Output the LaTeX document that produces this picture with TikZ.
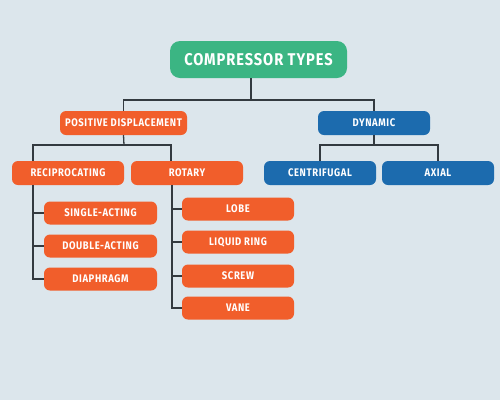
\documentclass[tikz,border=0pt]{standalone}
\usepackage{fontspec}
\setmainfont{Fira Sans}[LetterSpace=5.5, FakeStretch=0.86]
\usetikzlibrary{positioning}
\definecolor{bgblue}{HTML}{DCE6EC}
\definecolor{rootgreen}{HTML}{3BB583}
\definecolor{pdorange}{HTML}{F15E2B}
\definecolor{dynblue}{HTML}{1C6BAE}
\definecolor{linkgray}{HTML}{333A40}
\tikzset{
    box/.style={rectangle, rounded corners=6pt, text=white, font=\bfseries\fontsize{11}{12}\selectfont,
        minimum height=24pt, inner sep=0pt},
    rootbox/.style={box, fill=rootgreen, rounded corners=10pt, minimum width=177pt, minimum height=37pt,
        font=\bfseries\fontsize{17}{18}\selectfont},
    posbox/.style={box, fill=pdorange},
    dynbox/.style={box, fill=dynblue},
    link/.style={draw=linkgray, line width=1.3pt}
}

\begin{document}
\begin{tikzpicture}[x=1pt, y=-1pt]
    \fill[bgblue] (0,0) rectangle (500,400);
    \useasboundingbox (0,0) rectangle (500,400);
    % top level
    \node[rootbox] (root) at (258.5,59.5) {COMPRESSOR TYPES};
    \node[posbox, minimum width=127pt] (pd) at (123.5,123) {POSITIVE DISPLACEMENT};
    \node[dynbox, minimum width=112pt] (dyn) at (374,123) {DYNAMIC};
    % second level
    \node[posbox, minimum width=112pt] (recip) at (68,173) {RECIPROCATING};
    \node[posbox, minimum width=112pt] (rotary) at (187,173) {ROTARY};
    \node[dynbox, minimum width=112pt] (centri) at (320,173) {CENTRIFUGAL};
    \node[dynbox, minimum width=112pt] (axial) at (438,173) {AXIAL};
    % reciprocating kinds
    \node[posbox, minimum width=113pt, minimum height=23pt] (single) at (100.5,213) {SINGLE-ACTING};
    \node[posbox, minimum width=113pt, minimum height=23pt] (double) at (100.5,246) {DOUBLE-ACTING};
    \node[posbox, minimum width=113pt, minimum height=23pt] (diaph) at (100.5,279) {DIAPHRAGM};
    % rotary kinds
    \node[posbox, minimum width=112pt, minimum height=23pt] (lobe) at (238,209) {LOBE};
    \node[posbox, minimum width=112pt, minimum height=23pt] (liquid) at (238,242) {LIQUID RING};
    \node[posbox, minimum width=112pt, minimum height=23pt] (screw) at (238,276) {SCREW};
    \node[posbox, minimum width=112pt, minimum height=23pt] (vane) at (238,308) {VANE};
    % joints
    \coordinate (rj) at (251,100);
    \coordinate (pj) at (124,145);
    \coordinate (dj) at (374,145);
    \coordinate (rcj) at (33,185);
    \coordinate (rtj) at (172,185);
    % connectors
    \draw[link] (root.south -| rj) -- (rj);
    \draw[link] (pd.north) |- (rj) -| (dyn.north);
    \draw[link] (pd.south) -- (pj);
    \draw[link] (recip.north -| rcj) |- (pj) -| (rotary.north -| 171,0);
    \draw[link] (dyn.south) -- (dj);
    \draw[link] (centri.north) |- (dj) -| (axial.north);
    \foreach \k in {single,double,diaph}{
        \draw[link] (rcj) |- (\k.west);
    }
    \foreach \k in {lobe,liquid,screw,vane}{
        \draw[link] (rtj) |- (\k.west);
    }
\end{tikzpicture}
\end{document}
